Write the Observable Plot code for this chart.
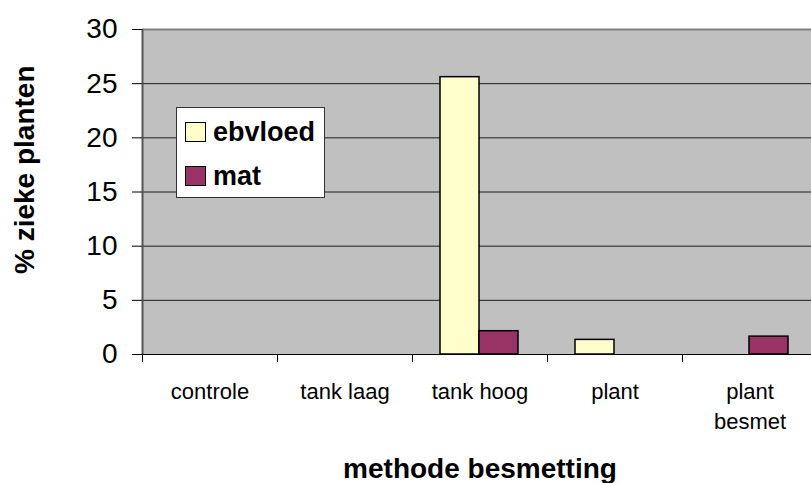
<!DOCTYPE html>
<html><head><meta charset="utf-8">
<script src="https://cdn.jsdelivr.net/npm/d3@7"></script>
<script src="https://cdn.jsdelivr.net/npm/@observablehq/plot@0.6"></script>
<style>
body{margin:0;background:#fff;}
#chart{position:relative;width:811px;height:483px;overflow:hidden;font-family:"Liberation Sans",Arial,sans-serif;}
.legend{position:absolute;left:176px;top:107px;width:149px;height:91px;box-sizing:border-box;border:1px solid #333;background:#fff;}
.legend .item{position:absolute;left:8px;height:20px;display:flex;align-items:center;font-weight:bold;font-size:27px;color:#000;}
.legend .sw{width:21px;height:20px;border:1.5px solid #000;margin-right:7px;box-sizing:border-box;}
</style></head>
<body><div id="chart"></div>
<script>
const categories = ["controle", "tank laag", "tank hoog", "plant", "plant besmet"];
const tickLabels = ["controle", "tank laag", "tank hoog", "plant", "plant\nbesmet"];
const series = ["ebvloed", "mat"];
const ebvloed = [0, 0, 25.6, 1.35, 0];
const mat = [0, 0, 2.15, 0, 1.65];
const colors = ["#FFFFCC", "#993366"];
const yTicks = [0, 5, 10, 15, 20, 25, 30];
const yTitle = "% zieke planten";
const xTitle = "methode besmetting";

const W = 811, H = 483, mL = 142, mR = -6, mT = 29, mB = 129;
const step = (W - mL - mR) / categories.length;

const rows = categories.flatMap((c, i) => [
  {cat: c, s: series[0], v: ebvloed[i]},
  {cat: c, s: series[1], v: mat[i]}
]);

const plot = Plot.plot({
  width: W, height: H,
  marginLeft: mL, marginRight: mR, marginTop: mT, marginBottom: mB,
  style: {fontFamily: '"Liberation Sans", Arial, sans-serif', fontSize: "22px", color: "#000", background: "#fff"},
  x: {domain: categories, padding: 0, axis: null},
  y: {domain: [0, 30], axis: null},
  color: {domain: series, range: colors},
  marks: [
    Plot.frame({fill: "#c0c0c0"}),
    Plot.gridY(yTicks.slice(1, -1), {stroke: "#000", strokeOpacity: 0.85}),
    Plot.ruleY([30], {stroke: "#808080", strokeWidth: 2}),
    Plot.barY(rows.filter(d => d.s === series[0]), {x: "cat", y: "v", fill: "s", stroke: "#000", strokeWidth: 1.5, insetLeft: 28, insetRight: 68}),
    Plot.barY(rows.filter(d => d.s === series[1]), {x: "cat", y: "v", fill: "s", stroke: "#000", strokeWidth: 1.5, insetLeft: 67, insetRight: 29}),
    Plot.ruleX([categories[0]], {x: d => d, dx: -step / 2, stroke: "#555", strokeWidth: 2}),
    Plot.ruleY([0], {stroke: "#000", strokeWidth: 1.2}),
    Plot.axisY(yTicks, {tickSize: 10, tickPadding: 15, fontSize: 28, label: null}),
    Plot.ruleX(categories, {x: d => d, dx: -step / 2, y1: 0, y2: 0, insetBottom: -8, stroke: "#000"}),
    Plot.axisX(categories, {tickSize: 0, tickPadding: 23, fontSize: 22, lineHeight: 1.36, label: null,
      tickFormat: d => tickLabels[categories.indexOf(d)]}),
    Plot.text([yTitle], {frameAnchor: "left", rotate: -90, dx: -117, dy: 82, fontWeight: "bold", fontSize: 28}),
    Plot.text([xTitle], {frameAnchor: "bottom", dy: 123, fontWeight: "bold", fontSize: 28})
  ]
});

const chart = document.getElementById("chart");
chart.append(plot);
const legend = document.createElement("div");
legend.className = "legend";
series.forEach((s, i) => {
  const item = document.createElement("div");
  item.className = "item";
  item.style.top = (14 + i * 44) + "px";
  const sw = document.createElement("span");
  sw.className = "sw";
  sw.style.background = colors[i];
  const t = document.createElement("span");
  t.textContent = s;
  item.append(sw, t);
  legend.append(item);
});
chart.append(legend);
</script>
</body></html>
